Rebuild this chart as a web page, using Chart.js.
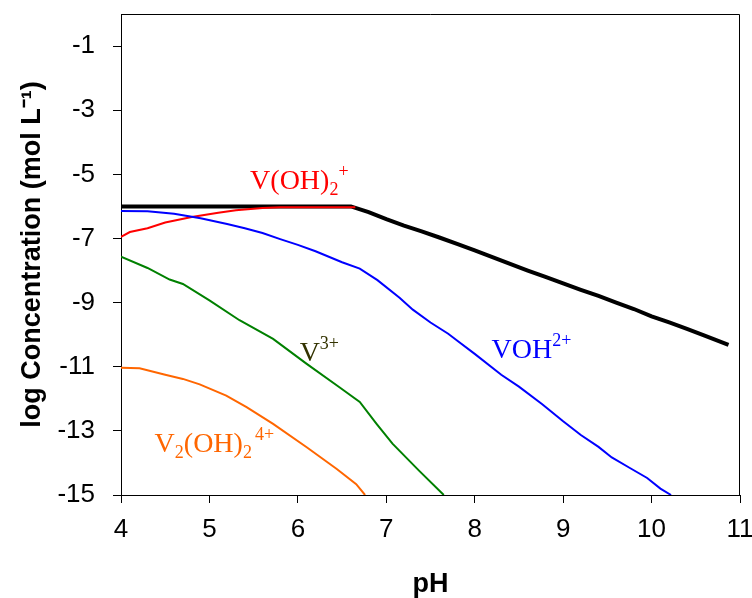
<!DOCTYPE html>
<html>
<head>
  <meta charset="UTF-8">
  <title>Vanadium(III) speciation vs pH</title>
  <script src="https://cdn.jsdelivr.net/npm/chart.js@4.4.1/dist/chart.umd.min.js"></script>
  <style>
    body { margin: 0; background: #fff; }
    #wrap { width: 752px; height: 598px; }
  </style>
</head>
<body>
  <div id="wrap"><canvas id="specChart"></canvas></div>

  <script>
    // Total dissolved V(III)
    const totalPH = [4.0, 6.6, 6.8, 7.0, 7.2, 7.4, 7.6, 7.8, 8.0, 8.2, 8.4, 8.6, 8.8, 9.0, 9.2, 9.4, 9.6, 9.8, 10.0, 10.2, 10.4, 10.6, 10.87];
    const totalLog = [-6.0, -6.0, -6.18, -6.4, -6.6, -6.78, -6.97, -7.17, -7.37, -7.58, -7.79, -8.0, -8.2, -8.4, -8.6, -8.79, -9.0, -9.2, -9.43, -9.62, -9.82, -10.03, -10.32];

    // V(OH)2+
    const vOH2PH = [4.0, 4.1, 4.3, 4.5, 4.8, 5.1, 5.3, 5.6, 5.8, 6.65];
    const vOH2Log = [-6.95, -6.8, -6.68, -6.5, -6.33, -6.2, -6.12, -6.05, -6.03, -6.03];

    // VOH2+
    const vOHPH = [4.0, 4.3, 4.6, 4.9, 5.2, 5.4, 5.6, 5.8, 6.0, 6.2, 6.5, 6.7, 6.9, 7.15, 7.3, 7.5, 7.7, 7.8, 8.0, 8.3, 8.5, 8.76, 9.0, 9.2, 9.4, 9.55, 9.75, 9.95, 10.1, 10.22];
    const vOHLog = [-6.14, -6.15, -6.23, -6.37, -6.55, -6.68, -6.83, -7.02, -7.2, -7.4, -7.74, -7.94, -8.3, -8.85, -9.22, -9.62, -9.97, -10.18, -10.6, -11.25, -11.62, -12.16, -12.7, -13.13, -13.5, -13.83, -14.15, -14.47, -14.8, -15.0];

    // V3+
    const v3PH = [4.0, 4.3, 4.55, 4.7, 5.0, 5.34, 5.72, 6.1, 6.47, 6.7, 6.89, 7.07, 7.37, 7.65];
    const v3Log = [-7.57, -7.92, -8.28, -8.42, -8.93, -9.55, -10.13, -10.91, -11.64, -12.1, -12.78, -13.4, -14.24, -15.0];

    // V2(OH)2 4+
    const dimerPH = [4.0, 4.21, 4.5, 4.7, 4.89, 5.19, 5.42, 5.72, 6.1, 6.44, 6.66, 6.76];
    const dimerLog = [-11.03, -11.05, -11.25, -11.38, -11.55, -11.9, -12.26, -12.78, -13.51, -14.19, -14.66, -15.0];

    const xTicks = [4, 5, 6, 7, 8, 9, 10, 11];
    const yTicks = [-15, -13, -11, -9, -7, -5, -3, -1];

    const toPoints = (xs, ys) => xs.map((v, i) => ({ x: v, y: ys[i] }));

    // species labels, anchored in data units (left edge, baseline)
    const speciesLabels = [
      { ph: 5.46, logC: -5.46, color: '#ff0000', parts: [['V(OH)', ''], ['2', 'sub'], ['+', 'sup']] },
      { ph: 8.19, logC: -10.74, color: '#0000ff', parts: [['VOH', ''], ['2+', 'sup']] },
      { ph: 6.02, logC: -10.83, color: '#333300', parts: [['V', ''], ['3+', 'sup']] },
      { ph: 4.38, logC: -13.67, color: '#ff6600', parts: [['V', ''], ['2', 'sub'], ['(OH)', ''], ['2', 'sub'], [' ', 'gap'], ['4+', 'sup']] }
    ];

    const frameAndLabels = {
      id: 'frameAndLabels',
      afterDatasetsDraw(chart) {
        const { ctx, chartArea: a, scales: { x, y } } = chart;
        ctx.save();
        // top and right frame
        ctx.strokeStyle = '#000';
        ctx.lineWidth = 1;
        ctx.beginPath();
        ctx.moveTo(a.left, a.top + 0.5);
        ctx.lineTo(a.right - 0.5, a.top + 0.5);
        ctx.lineTo(a.right - 0.5, a.bottom);
        ctx.stroke();

        ctx.textBaseline = 'alphabetic';
        speciesLabels.forEach(l => {
          let px = x.getPixelForValue(l.ph);
          const py = y.getPixelForValue(l.logC);
          ctx.fillStyle = l.color;
          l.parts.forEach(([text, kind]) => {
            const size = kind ? 18 : 28;
            const dy = kind === 'sub' ? 6 : kind === 'sup' ? -12 : 0;
            ctx.font = size + 'px "Liberation Serif", "Times New Roman", serif';
            if (kind === 'gap') { px += 3; return; }
            ctx.fillText(text, px, py + dy);
            px += ctx.measureText(text).width;
          });
        });
        ctx.restore();
      }
    };

    const lineSet = (label, xs, ys, color, width) => ({
      label: label,
      data: toPoints(xs, ys),
      borderColor: color,
      backgroundColor: color,
      borderWidth: width,
      pointRadius: 0,
      tension: 0,
      fill: false
    });

    const tickFont = { family: '"Liberation Sans", Arial, sans-serif', size: 26 };
    const titleFont = { family: '"Liberation Sans", Arial, sans-serif', size: 27, weight: 'bold' };

    new Chart(document.getElementById('specChart').getContext('2d'), {
      type: 'line',
      data: {
        datasets: [
          lineSet('V2(OH)2 4+', dimerPH, dimerLog, '#ff6600', 2),
          lineSet('V3+', v3PH, v3Log, '#008000', 2),
          lineSet('VOH2+', vOHPH, vOHLog, '#0000ff', 2),
          lineSet('V(OH)2+', vOH2PH, vOH2Log, '#ff0000', 2),
          lineSet('Total', totalPH, totalLog, '#000000', 4)
        ]
      },
      options: {
        responsive: true,
        maintainAspectRatio: false,
        animation: false,
        layout: { padding: 0 },
        plugins: {
          legend: { display: false },
          tooltip: { enabled: false }
        },
        scales: {
          x: {
            type: 'linear',
            min: 4,
            max: 11,
            afterBuildTicks: s => { s.ticks = xTicks.map(v => ({ value: v })); },
            afterFit: s => { s.height = 103; s.paddingLeft = 0; s.paddingRight = 12; },
            ticks: { font: tickFont, color: '#000', padding: 11 },
            grid: { drawOnChartArea: false, drawTicks: true, tickLength: 8, tickColor: '#000' },
            border: { color: '#000', width: 1 },
            title: { display: true, text: 'pH', font: titleFont, color: '#000', padding: { top: 4, bottom: -3 } }
          },
          y: {
            min: -15,
            max: 0,
            afterBuildTicks: s => { s.ticks = yTicks.map(v => ({ value: v })); },
            afterFit: s => { s.width = 121; s.paddingTop = 14; s.paddingBottom = 0; },
            ticks: { font: tickFont, color: '#000', padding: 18 },
            grid: { drawOnChartArea: false, drawTicks: true, tickLength: 8, tickColor: '#000' },
            border: { color: '#000', width: 1 },
            title: { display: true, text: 'log Concentration (mol L⁻¹)', font: titleFont, color: '#000', padding: { top: 16, bottom: 4 } }
          }
        }
      },
      plugins: [frameAndLabels]
    });
  </script>
</body>
</html>
